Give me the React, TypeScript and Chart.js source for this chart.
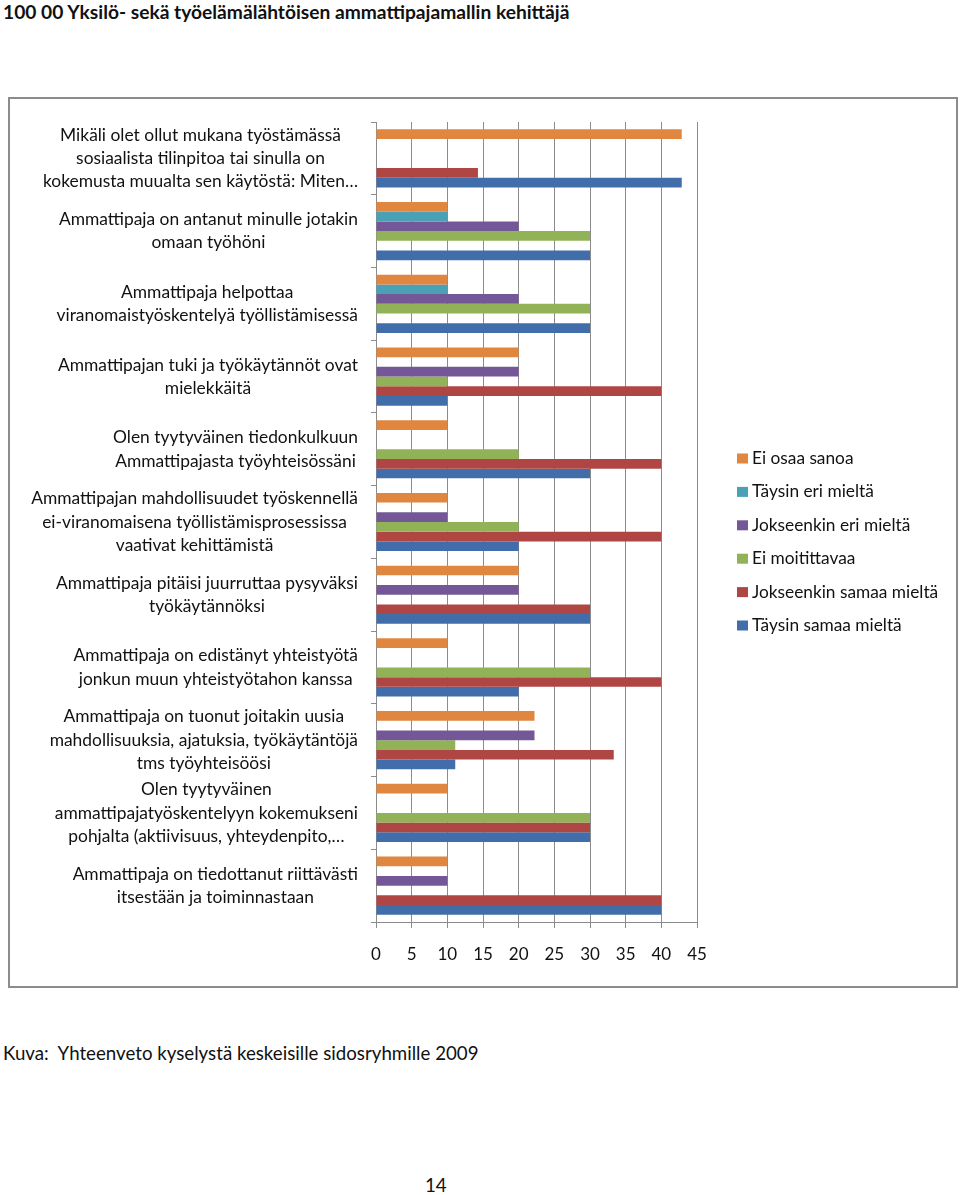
import React, { useEffect, useRef } from "react";
import { Chart, registerables } from "chart.js";

Chart.register(...registerables);

const categories: string[][] = [
  ["Mikäli olet ollut mukana työstämässä", "sosiaalista tilinpitoa tai sinulla on", "kokemusta muualta sen käytöstä: Miten…"],
  ["Ammattipaja on antanut minulle jotakin", "omaan työhöni"],
  ["Ammattipaja helpottaa", "viranomaistyöskentelyä työllistämisessä"],
  ["Ammattipajan tuki ja työkäytännöt ovat", "mielekkäitä"],
  ["Olen tyytyväinen tiedonkulkuun", "Ammattipajasta työyhteisössäni"],
  ["Ammattipajan mahdollisuudet työskennellä", "ei-viranomaisena työllistämisprosessissa", "vaativat kehittämistä"],
  ["Ammattipaja pitäisi juurruttaa pysyväksi", "työkäytännöksi"],
  ["Ammattipaja on edistänyt yhteistyötä", "jonkun muun yhteistyötahon kanssa"],
  ["Ammattipaja on tuonut joitakin uusia", "mahdollisuuksia, ajatuksia, työkäytäntöjä", "tms työyhteisöösi"],
  ["Olen tyytyväinen", "ammattipajatyöskentelyyn kokemukseni", "pohjalta (aktiivisuus, yhteydenpito,…"],
  ["Ammattipaja on tiedottanut riittävästi", "itsestään ja toiminnastaan"],
];

const seriesNames = [
  "Ei osaa sanoa",
  "Täysin eri mieltä",
  "Jokseenkin eri mieltä",
  "Ei moitittavaa",
  "Jokseenkin samaa mieltä",
  "Täysin samaa mieltä",
];

const eiOsaaSanoa = [42.86, 10, 10, 20, 10, 10, 20, 10, 22.22, 10, 10];
const taysinEriMielta = [0, 10, 10, 0, 0, 0, 0, 0, 0, 0, 0];
const jokseenkinEriMielta = [0, 20, 20, 20, 0, 10, 20, 0, 22.22, 0, 10];
const eiMoitittavaa = [0, 30, 30, 10, 20, 20, 0, 30, 11.11, 30, 0];
const jokseenkinSamaaMielta = [14.29, 0, 0, 40, 40, 40, 30, 40, 33.33, 30, 40];
const taysinSamaaMielta = [42.86, 30, 30, 10, 30, 20, 30, 20, 11.11, 30, 40];

const xTicks = [0, 5, 10, 15, 20, 25, 30, 35, 40, 45];

const colors = ["#E0863F", "#4AA0B5", "#745796", "#91B256", "#B04644", "#416EAA"];

const FONT = "Lato, 'Open Sans', sans-serif";

const labelPlugin = {
  id: "customLabels",
  afterDraw(chart: any) {
    const ctx = chart.ctx;
    const yScale = chart.scales.y;
    ctx.save();
    ctx.font = `17.4px ${FONT}`;
    ctx.fillStyle = "#111";
    ctx.textAlign = "center";
    ctx.textBaseline = "middle";
    const lh = 23.3;
    categories.forEach((lines, i) => {
      const y = yScale.getPixelForValue(i);
      const maxW = Math.max(...lines.map((l) => ctx.measureText(l).width));
      const cx = yScale.right - 18 - maxW / 2;
      lines.forEach((line, j) => {
        ctx.fillText(line, cx, y + (j - (lines.length - 1) / 2) * lh);
      });
    });
    // legend
    ctx.font = `17.3px ${FONT}`;
    const lx = 727;
    const ly0 = 359.5;
    const step = 33.4;
    seriesNames.forEach((name, i) => {
      const cy = ly0 + i * step;
      ctx.fillStyle = colors[i];
      ctx.fillRect(lx, cy - 5, 11, 10);
      ctx.fillStyle = "#111";
      ctx.textAlign = "left";
      ctx.fillText(name, lx + 15, cy);
    });
    ctx.restore();
  },
};

function App() {
  const canvasRef = useRef<HTMLCanvasElement | null>(null);

  useEffect(() => {
    const seriesData = [
      eiOsaaSanoa,
      taysinEriMielta,
      jokseenkinEriMielta,
      eiMoitittavaa,
      jokseenkinSamaaMielta,
      taysinSamaaMielta,
    ];
    const chart = new Chart(canvasRef.current as HTMLCanvasElement, {
      type: "bar",
      data: {
        labels: categories.map((c) => c.join(" ")),
        datasets: seriesNames.map((name, i) => ({
          label: name,
          data: seriesData[i],
          backgroundColor: colors[i],
          borderWidth: 0,
          categoryPercentage: 0.8,
          barPercentage: 1.0,
        })),
      },
      options: {
        indexAxis: "y",
        animation: false,
        responsive: false,
        maintainAspectRatio: false,
        layout: { padding: { top: 23, right: 259, bottom: 0, left: 0 } },
        plugins: {
          legend: { display: false },
          tooltip: { enabled: false },
        },
        scales: {
          x: {
            min: 0,
            max: 45,
            afterBuildTicks: (scale: any) => {
              scale.ticks = xTicks.map((v) => ({ value: v }));
            },
            afterFit: (scale: any) => {
              scale.height = 64;
            },
            grid: {
              color: "#8c8c8c",
              lineWidth: 1,
              tickLength: 6,
              drawTicks: true,
            },
            border: { display: true, color: "#8c8c8c", width: 1 },
            ticks: {
              font: { family: FONT, size: 17 },
              color: "#111",
              padding: 16,
            },
          },
          y: {
            afterFit: (scale: any) => {
              scale.width = 366;
            },
            grid: {
              offset: true,
              drawOnChartArea: false,
              drawTicks: true,
              tickLength: 5,
              color: "#8c8c8c",
            },
            border: { display: true, color: "#8c8c8c", width: 1 },
            ticks: {
              color: "rgba(0,0,0,0)",
              font: { family: FONT, size: 16 },
            },
          },
        },
      },
      plugins: [labelPlugin],
    });
    return () => chart.destroy();
  }, []);

  return (
    <div style={{ position: "relative", width: 960, height: 1195, fontFamily: FONT, color: "#111", background: "#fff" }}>
      <style>{`body{margin:0;background:#fff}`}</style>
      <div style={{ position: "absolute", left: 3, top: 0, fontSize: 19.2, fontWeight: 700, lineHeight: "24px", whiteSpace: "pre" }}>
        100 00 Yksilö- sekä työelämälähtöisen ammattipajamallin kehittäjä
      </div>
      <div
        style={{
          position: "absolute",
          left: 8,
          top: 97,
          width: 950,
          height: 891,
          boxSizing: "border-box",
          border: "2px solid #8c8c8c",
        }}
      >
        <canvas ref={canvasRef} width={946} height={887} style={{ display: "block", width: 946, height: 887 }} />
      </div>
      <div style={{ position: "absolute", left: 3, top: 1041, fontSize: 18.7, lineHeight: "24px", whiteSpace: "pre" }}>
        {"Kuva:  Yhteenveto kyselystä keskeisille sidosryhmille 2009"}
      </div>
      <div style={{ position: "absolute", left: 425, top: 1173, fontSize: 18.7, lineHeight: "24px" }}>14</div>
    </div>
  );
}

export default App;
